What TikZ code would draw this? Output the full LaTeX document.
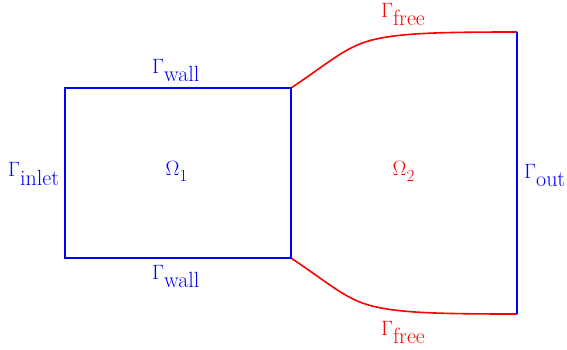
\documentclass[tikz,border=0pt]{standalone}
\newcommand\glab[1]{$\Gamma$\raisebox{-8.5pt}{\fontsize{22}{26}\selectfont #1}}
\newcommand\olab[1]{$\Omega$\raisebox{-6pt}{\fontsize{17}{20}\selectfont #1}}
\begin{document}
\begin{tikzpicture}[x=1pt,y=-1pt,
  blueline/.style={draw={rgb,255:red,0;green,0;blue,255},line width=1.3pt},
  redline/.style={draw={rgb,255:red,255;green,0;blue,0},line width=1.6pt},
  lbl/.style={anchor=base west,inner sep=0pt,font=\fontsize{20.74}{25}\selectfont},
  bluetext/.style={lbl,text={rgb,255:red,0;green,0;blue,255}},
  redtext/.style={lbl,text={rgb,255:red,255;green,0;blue,0}}]
\useasboundingbox (0,0) rectangle (567,349);
\coordinate (A) at (65,88);
\coordinate (B) at (291,88);
\coordinate (C) at (291,258);
\coordinate (D) at (65,258);
\coordinate (E) at (517,32);
\coordinate (F) at (517,314);
\coordinate (M1) at (372,40);
\coordinate (M2) at (372,306);
\draw[redline] (B) .. controls (330,62) and (345,47) .. (M1)
  .. controls (400,33) and (440,32) .. (E);
\draw[redline] (C) .. controls (330,284) and (345,299) .. (M2)
  .. controls (400,313) and (440,314) .. (F);
\draw[blueline] (A) rectangle (C);
\draw[blueline] (E) -- (F);
\node[bluetext] (wallT) at (152,73) {\glab{wall}};
\node[bluetext] (wallB) at (152,279) {\glab{wall}};
\node[bluetext] (inlet) at (8,176.7) {\glab{inlet}};
\node[bluetext] (out) at (524,178) {\glab{out}};
\node[redtext] (freeT) at (381,17.3) {\glab{free}};
\node[redtext] (freeB) at (381,335.3) {\glab{free}};
\node[bluetext] (om1) at (165.5,175.7) {\olab{1}};
\node[redtext] (om2) at (392.5,175.7) {\olab{2}};
\end{tikzpicture}
\end{document}
